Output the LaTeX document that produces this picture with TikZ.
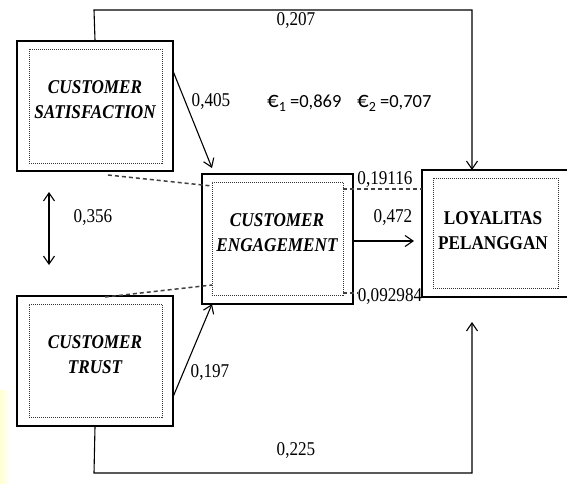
\documentclass[tikz,border=0pt]{standalone}
\usepackage{fontspec}
\setmainfont[FakeStretch=0.88]{Liberation Serif}
\newfontfamily\epsfont{Carlito}
\usetikzlibrary{arrows.meta}
\newcommand{\errterm}[1]{{\fontsize{23}{23}\selectfont €}\raisebox{-4pt}{\fontsize{14}{14}\selectfont #1}}
\begin{document}
\begin{tikzpicture}[x=1pt,y=-1pt,
  outerbox/.style={draw=black,line width=1.4pt,minimum width=#1,inner sep=0pt},
  innerbox/.style={draw=black!80,line width=0.8pt,dash pattern=on 1pt off 1pt,inner sep=0pt},
  boxtext/.style={align=center,font=\fontsize{19.5}{25}\selectfont\bfseries\itshape,inner sep=0pt},
  lytext/.style={align=center,font=\fontsize{19.5}{25}\selectfont\bfseries,inner sep=0pt},
  coef/.style={font=\fontsize{19.5}{20}\selectfont,inner sep=0pt},
  epslab/.style={font=\fontsize{18.5}{20}\selectfont\epsfont,inner sep=0pt},
  path/.style={draw=black,line width=1.1pt},
  arr/.style={path,-{Straight Barb[length=8pt,width=11pt,line width=1.1pt]}},
  corr/.style={draw=black!75,line width=1.5pt,dash pattern=on 4pt off 3pt},
]
\useasboundingbox (0,0) rectangle (567,484);

% faint tint at the lower left edge
\shade[left color=yellow!18,right color=white] (0,390) rectangle (10,484);

% latent variables: outer frame, dotted inner frame, label
\node[outerbox=156pt,minimum height=130pt] (cs) at (95,106) {};
\node[innerbox,minimum width=133pt,minimum height=114pt] (csIn) at (95.5,106) {};
\node[boxtext] (csTx) at (95,99.5) {CUSTOMER\\SATISFACTION};

\node[outerbox=156pt,minimum height=130pt] (ct) at (95,361) {};
\node[innerbox,minimum width=133pt,minimum height=113pt] (ctIn) at (95.5,360.5) {};
\node[boxtext] (ctTx) at (95,354.5) {CUSTOMER\\TRUST};

\node[outerbox=151pt,minimum height=130pt] (ce) at (277.5,239) {};
\node[innerbox,minimum width=131pt,minimum height=113pt] (ceIn) at (277.5,238.5) {};
\node[boxtext] (ceTx) at (277,232.5) {CUSTOMER\\ENGAGEMENT};

\node[outerbox=147pt,minimum height=127pt] (ly) at (495.5,233.5) {};
\node[innerbox,minimum width=125pt,minimum height=110pt] (lyIn) at (495.5,233) {};
\node[lytext] (lyTx) at (493,230.5) {LOYALITAS\\PELANGGAN};

% connector end points
\coordinate (lyTop) at (472,170);
\coordinate (lyBot) at (472,322);
\coordinate (csOut) at (173,71);
\coordinate (ceInTop) at (212,168);
\coordinate (ctOut) at (173,397);
\coordinate (ceInBot) at (212,304);
\coordinate (covTop) at (49,192);
\coordinate (covBot) at (49,265);
\coordinate (ceOut) at (353,241);
\coordinate (lyIn1) at (414,241);

% direct paths to loyalty
\draw[arr] (cs.north) -- (94,10) -| (lyTop);
\draw[arr] (ct.south) -- (94,473) -| (lyBot);

% paths to engagement and onward
\draw[arr] (csOut) -- (ceInTop);
\draw[arr] (ctOut) -- (ceInBot);
\draw[arr] (ceOut) -- (lyIn1);
\draw[path,{Straight Barb[length=8pt,width=11pt,line width=1.1pt]}-{Straight Barb[length=8pt,width=11pt,line width=1.1pt]}] (covTop) -- (covBot);

% dashed links
\draw[corr] (108,175) -- (212,186);
\draw[corr] (105,297) -- (212,285);
\draw[corr] (343,189) -- (422,189);
\draw[corr] (343,293) -- (358,293);

% coefficients
\node[coef] (c207) at (296,21) {0,207};
\node[coef] (c405) at (211,102) {0,405};
\node[coef] (c356) at (93,218) {0,356};
\node[coef] (c472) at (393,218) {0,472};
\node[coef] (c191) at (385,180) {0,19116};
\node[coef] (c092) at (390,297) {0,092984};
\node[coef] (c197) at (210,373) {0,197};
\node[coef] (c225) at (296,451) {0,225};
\node[epslab,anchor=west] (e1) at (267,103) {\errterm{1} =0,869};
\node[epslab,anchor=west] (e2) at (357,103) {\errterm{2} =0,707};
\end{tikzpicture}
\end{document}
